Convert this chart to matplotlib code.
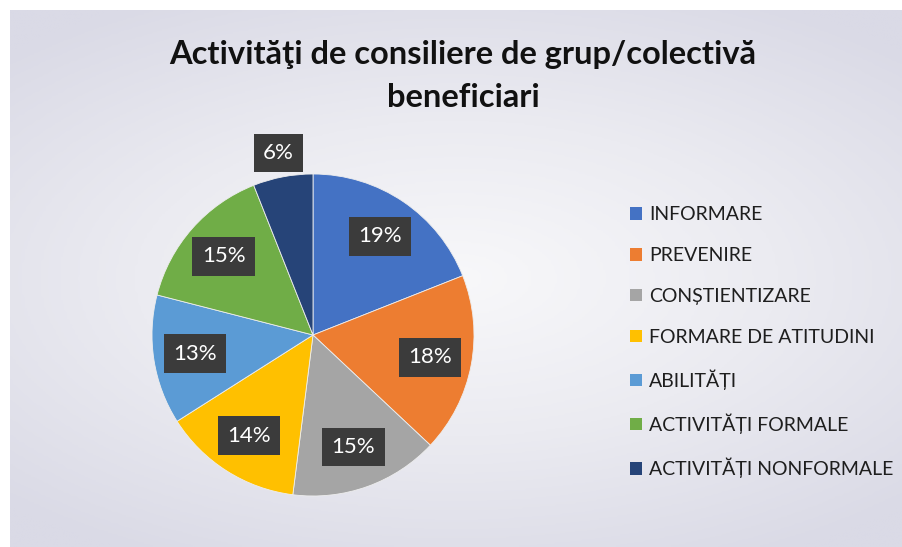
import numpy as np
import matplotlib
matplotlib.use('Agg')
import matplotlib.pyplot as plt
from matplotlib.patches import Patch

categories = ['INFORMARE', 'PREVENIRE', 'CONȘTIENTIZARE', 'FORMARE DE ATITUDINI',
              'ABILITĂȚI', 'ACTIVITĂȚI FORMALE', 'ACTIVITĂȚI NONFORMALE']
values = [19, 18, 15, 14, 13, 15, 6]
colors = ['#4472C4', '#ED7D31', '#A5A5A5', '#FFC000', '#5B9BD5', '#70AD47', '#264478']
title = 'Activităţi de consiliere de grup/colectivă\nbeneficiari'

plt.rcParams['font.family'] = ['Lato', 'DejaVu Sans']

W, H = 903, 547
fig = plt.figure(figsize=(W / 100, H / 100), dpi=100, facecolor='white')

# background panel with soft radial gradient
bg = fig.add_axes([10 / W, 0, 1 - 10 / W, 1 - 10 / H])
yy, xx = np.mgrid[-1:1:200j, -1:1:300j]
d = np.sqrt((xx * 0.9) ** 2 + (yy * 1.1) ** 2)
bg.imshow(d, cmap=matplotlib.colors.LinearSegmentedColormap.from_list(
    'g', ['#f8f8fa', '#ebebf1', '#dadae6']), aspect='auto', vmin=0, vmax=1.3,
    extent=[0, 1, 0, 1])
bg.axis('off')

cx, cy, r = 313, 335, 161
ax = fig.add_axes([(cx - r) / W, (H - cy - r) / H, 2 * r / W, 2 * r / H])
wedges, _ = ax.pie(values, colors=colors, startangle=90, counterclock=False,
                   radius=1, wedgeprops=dict(linewidth=0.6, edgecolor='#eeeeee'))
ax.set_xlim(-1, 1)
ax.set_ylim(-1, 1)
ax.set_aspect('equal')
ax.axis('off')

for w, v in zip(wedges, values):
    ang = np.deg2rad((w.theta1 + w.theta2) / 2)
    dist = 1.15 if v < 10 else 0.74
    ax.text(dist * np.cos(ang), dist * np.sin(ang), f'{v}%', ha='center', va='center',
            color='white', fontsize=16,
            bbox=dict(boxstyle='square,pad=0.42', fc='#3b3b3b', ec='none'))

fig.text(463 / W, 1 - 76 / H, title, ha='center', va='center', fontsize=23.5,
         fontweight='bold', color='#111111', linespacing=1.6)

handles = [Patch(facecolor=c, edgecolor='none') for c in colors]
fig.legend(handles, categories, loc='upper left', bbox_to_anchor=(613 / W, 1 - 189 / H),
           frameon=False, fontsize=14, labelspacing=1.22, handlelength=0.6,
           handleheight=0.6, handletextpad=0.35, labelcolor='#1e1e1e')

fig.savefig('out.png', dpi=100, facecolor=fig.get_facecolor())
